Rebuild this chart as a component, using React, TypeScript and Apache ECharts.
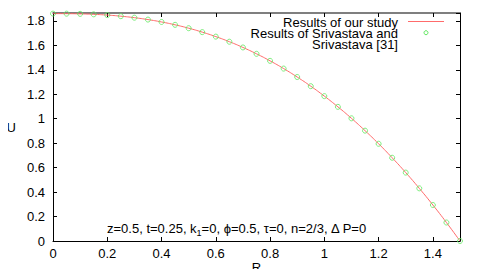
import React, { useEffect, useRef } from "react";
import * as echarts from "echarts";

const rValues = [0, 0.05, 0.1, 0.15, 0.2, 0.25, 0.3, 0.35, 0.4, 0.45, 0.5, 0.55, 0.6, 0.65, 0.7, 0.75, 0.8, 0.85, 0.9, 0.95, 1.0, 1.05, 1.1, 1.15, 1.2, 1.25, 1.3, 1.35, 1.4, 1.45, 1.5];
const ourStudy = [1.86, 1.8596, 1.8579, 1.8541, 1.8479, 1.8389, 1.8267, 1.8111, 1.7917, 1.7683, 1.7407, 1.7086, 1.6718, 1.6301, 1.5833, 1.5312, 1.4736, 1.4104, 1.3413, 1.2663, 1.185, 1.0974, 1.0034, 0.9026, 0.7953, 0.6809, 0.5595, 0.4307, 0.2946, 0.1512, 0];
const srivastava = [1.86, 1.8596, 1.8579, 1.8541, 1.8479, 1.8389, 1.8267, 1.8111, 1.7917, 1.7683, 1.7407, 1.7086, 1.6718, 1.6301, 1.5833, 1.5312, 1.4736, 1.4104, 1.3413, 1.2663, 1.185, 1.0974, 1.0034, 0.9026, 0.7953, 0.6809, 0.5595, 0.4307, 0.2946, 0.1512, 0];
const legendLabels = ["Results of our study", "Results of Srivastava and\nSrivastava [31]"];

const FONT = "'Liberation Sans', Arial, Helvetica, sans-serif";
const FS = 13;
const LINE_COLOR = "#ff6b6b";
const POINT_COLOR = "#5fe85f";

export default function App() {
  const ref = useRef<HTMLDivElement>(null);
  useEffect(() => {
    if (!ref.current) return;
    const chart = echarts.init(ref.current, null, { renderer: "svg" });
    const axisCommon = {
      axisLine: { show: true, onZero: false, lineStyle: { color: "#000", width: 1 } },
      axisTick: { show: true, inside: true, length: 4, lineStyle: { color: "#000" } },
      splitLine: { show: false },
      nameMoveOverlap: false,
      nameTextStyle: { fontFamily: FONT, fontSize: FS, color: "#000" },
    };
    chart.setOption({
      animation: false,
      backgroundColor: "#fff",
      grid: { left: 53, right: 25, top: 13, bottom: 36, containLabel: false, outerBoundsMode: "none" },
      xAxis: [
        {
          ...axisCommon,
          type: "value",
          min: 0,
          max: 1.5,
          interval: 0.2,
          name: "R",
          nameLocation: "middle",
          nameGap: 20,
          axisLabel: { fontFamily: FONT, fontSize: FS, color: "#000", margin: 6, formatter: (v: number) => (v > 1.45 ? "" : String(Math.round(v * 10) / 10)) },
        },
        {
          ...axisCommon,
          type: "value",
          position: "top",
          min: 0,
          max: 1.5,
          interval: 0.2,
          axisLine: { show: true, onZero: false, lineStyle: { color: "#555", width: 1.5 } },
          axisLabel: { show: false },
        },
      ],
      yAxis: [
        {
          ...axisCommon,
          type: "value",
          min: 0,
          max: 1.865,
          interval: 0.2,
          name: "U",
          nameLocation: "middle",
          nameGap: 37,
          nameRotate: 0,
          axisLabel: { fontFamily: FONT, fontSize: FS, color: "#000", margin: 8, formatter: (v: number) => (v > 1.81 ? "" : String(Math.round(v * 10) / 10)) },
        },
        {
          ...axisCommon,
          type: "value",
          position: "right",
          min: 0,
          max: 1.865,
          interval: 0.2,
          axisLabel: { show: false },
        },
      ],
      series: [
        {
          name: "Results of our study",
          type: "line",
          smooth: true,
          showSymbol: false,
          data: rValues.map((r, i) => [r, ourStudy[i]]),
          lineStyle: { color: LINE_COLOR, width: 1 },
          itemStyle: { color: LINE_COLOR },
          z: 2,
        },
        {
          name: "Results of Srivastava and Srivastava [31]",
          type: "scatter",
          symbol: "circle",
          symbolSize: 5,
          data: rValues.map((r, i) => [r, srivastava[i]]),
          itemStyle: { color: "transparent", borderColor: POINT_COLOR, borderWidth: 1 },
          z: 3,
        },
      ],
      graphic: [
        { type: "text", x: 398, y: 22, style: { text: legendLabels[0], font: `${FS}px ${FONT}`, fill: "#000", textAlign: "right", textVerticalAlign: "middle", lineHeight: 11 } },
        { type: "line", shape: { x1: 408, y1: 21.5, x2: 444, y2: 21.5 }, style: { stroke: LINE_COLOR, lineWidth: 1 } },
        { type: "text", x: 398, y: 27.5, style: { text: legendLabels[1], font: `${FS}px ${FONT}`, fill: "#000", textAlign: "right", textVerticalAlign: "top", lineHeight: 11 } },
        { type: "circle", shape: { cx: 426, cy: 32.7, r: 2 }, style: { fill: "none", stroke: POINT_COLOR, lineWidth: 1 } },
        {
          type: "text",
          x: 107,
          y: 228,
          style: {
            text: "{a|z=0.5, t=0.25, k}{s|1}{a|=0, ϕ=0.5, τ=0, n=2/3, Δ P=0}",
            textVerticalAlign: "middle",
            rich: {
              a: { font: `${FS}px ${FONT}`, fill: "#000", verticalAlign: "bottom" },
              s: { font: `9px ${FONT}`, fill: "#000", verticalAlign: "bottom", padding: [0, 0, -3, 0] },
            },
          },
        },
      ],
    });
    return () => chart.dispose();
  }, []);
  return <div ref={ref} style={{ width: 485, height: 277, margin: -8 }} />;
}
